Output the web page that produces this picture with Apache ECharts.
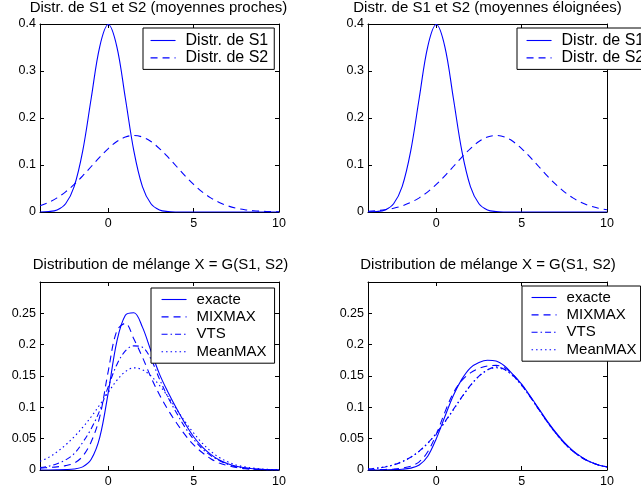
<!DOCTYPE html>
<html>
<head>
<meta charset="utf-8">
<script src="https://cdn.jsdelivr.net/npm/echarts@6/dist/echarts.min.js"></script>
<style>
html,body{margin:0;padding:0;background:#fff;}
#chart{width:641px;height:492px;}
</style>
</head>
<body>
<div id="chart"></div>
<script>
// ---- data ----
const xs = [-4,-3.5,-3,-2.5,-2,-1.5,-1,-0.5,0,0.5,1,1.5,2,2.5,3,3.5,4,4.5,5,5.5,6,6.5,7,7.5,8,8.5,9,9.5,10];

const titles = [
  "Distr. de S1 et S2 (moyennes proches)",
  "Distr. de S1 et S2 (moyennes éloignées)",
  "Distribution de mélange X = G(S1, S2)",
  "Distribution de mélange X = G(S1, S2)"
];
const namesTop = ["Distr. de S1", "Distr. de S2"];
const namesBottom = ["exacte", "MIXMAX", "VTS", "MeanMAX"];

const xTicks = [0, 5, 10];
const yTicksTop = [0, 0.1, 0.2, 0.3, 0.4];
const yTicksBottom = [0, 0.05, 0.1, 0.15, 0.2, 0.25];

// top-left (moyennes proches)
const procheS1 = [0.0001,0.0009,0.0044,0.0175,0.054,0.1295,0.242,0.3521,0.3989,0.3521,0.242,0.1295,0.054,0.0175,0.0044,0.0009,0.0001,0,0,0,0,0,0,0,0,0,0,0,0];
const procheS2 = [0.0131,0.0203,0.0301,0.0429,0.0587,0.0769,0.0968,0.1167,0.1350,0.1499,0.1595,0.1629,0.1595,0.1499,0.1350,0.1167,0.0968,0.0769,0.0587,0.0429,0.0301,0.0203,0.0131,0.0081,0.0048,0.0027,0.0015,0.0008,0.0004];
// top-right (moyennes éloignées)
const loinS1 = [0.0001,0.0009,0.0044,0.0175,0.054,0.1295,0.242,0.3521,0.3989,0.3521,0.242,0.1295,0.054,0.0175,0.0044,0.0009,0.0001,0,0,0,0,0,0,0,0,0,0,0,0];
const loinS2 = [0.0015,0.0027,0.0048,0.0081,0.0131,0.0203,0.0301,0.0429,0.0587,0.0769,0.0968,0.1167,0.1350,0.1499,0.1595,0.1629,0.1595,0.1499,0.1350,0.1167,0.0968,0.0769,0.0587,0.0429,0.0301,0.0203,0.0131,0.0081,0.0048];
// bottom-left (mixture, close means)
const procheExacte  = [0,0,0.0002,0.0006,0.0016,0.005,0.017,0.052,0.124,0.205,0.247,0.251,0.228,0.190,0.153,0.124,0.098,0.074,0.053,0.037,0.025,0.016,0.010,0.006,0.0035,0.002,0.001,0.0005,0.0002];
const procheMixmax  = [0.003,0.004,0.005,0.007,0.011,0.022,0.045,0.085,0.158,0.222,0.234,0.209,0.180,0.148,0.120,0.096,0.075,0.056,0.040,0.028,0.018,0.011,0.007,0.004,0.002,0.001,0.0006,0.0003,0.0001];
const procheVts     = [0.004,0.006,0.010,0.016,0.026,0.044,0.066,0.095,0.133,0.168,0.190,0.198,0.196,0.177,0.145,0.116,0.091,0.068,0.049,0.034,0.023,0.015,0.009,0.005,0.003,0.0015,0.0008,0.0004,0.0002];
const procheMeanmax = [0.014,0.020,0.029,0.040,0.053,0.068,0.085,0.104,0.124,0.143,0.157,0.163,0.160,0.150,0.135,0.117,0.097,0.077,0.059,0.043,0.030,0.020,0.013,0.008,0.005,0.003,0.0015,0.0008,0.0004];
// bottom-right (mixture, distant means)
const loinExacte  = [0,0,0.0003,0.0006,0.0012,0.003,0.008,0.022,0.050,0.085,0.119,0.145,0.163,0.1715,0.1752,0.174,0.166,0.152,0.137,0.118,0.098,0.078,0.060,0.044,0.031,0.021,0.013,0.008,0.005];
const loinMixmax  = [0.0002,0.0004,0.0008,0.0015,0.003,0.006,0.013,0.029,0.057,0.092,0.123,0.143,0.155,0.162,0.166,0.167,0.163,0.152,0.136,0.117,0.097,0.077,0.059,0.043,0.030,0.020,0.013,0.008,0.005];
const loinVts     = [0.0015,0.0027,0.0048,0.0081,0.0131,0.0203,0.0301,0.0429,0.0587,0.0769,0.0968,0.1167,0.1350,0.1499,0.1598,0.1645,0.1605,0.1505,0.1352,0.1168,0.0968,0.0769,0.0587,0.0429,0.0301,0.0203,0.0131,0.0081,0.0048];
const loinMeanmax = [0.0018,0.003,0.0052,0.0085,0.0135,0.0205,0.0300,0.0425,0.0580,0.0760,0.0960,0.1160,0.1345,0.1495,0.1595,0.1632,0.1598,0.1500,0.1350,0.1167,0.0968,0.0769,0.0587,0.0429,0.0301,0.0203,0.0131,0.0081,0.0048];

// ---- styling ----
const FONT = "'Liberation Sans', Arial, Helvetica, sans-serif";
const BLUE = "#0000ff";
const styles = {
  solid: "solid",
  dashed: [7, 5],
  dashdot: [6, 3, 1.5, 3],
  dotted: [1.5, 3]
};

const grids = [
  {left: 40, top: 24, width: 239, height: 188},
  {left: 368, top: 24, width: 239, height: 188},
  {left: 40, top: 282, width: 239, height: 188},
  {left: 368, top: 282, width: 239, height: 188}
];
const yMax = [0.4, 0.4, 0.3, 0.3];
const yTicks = [yTicksTop, yTicksTop, yTicksBottom, yTicksBottom];

const xAxis = [], yAxis = [];
grids.forEach((g, i) => {
  const line = {show: true, onZero: false, lineStyle: {color: "#000", width: 1}};
  xAxis.push({
    type: "value", gridIndex: i, min: -4, max: 10, position: "bottom",
    axisLine: line,
    axisTick: {show: true, inside: true, length: 4, customValues: xTicks, lineStyle: {color: "#000"}},
    axisLabel: {show: true, customValues: xTicks, margin: 5, color: "#000", fontFamily: FONT, fontSize: 12.5},
    splitLine: {show: false}
  });
  xAxis.push({
    type: "value", gridIndex: i, min: -4, max: 10, position: "top",
    axisLine: line,
    axisTick: {show: true, inside: true, length: 4, customValues: xTicks, lineStyle: {color: "#000"}},
    axisLabel: {show: false},
    splitLine: {show: false}
  });
  yAxis.push({
    type: "value", gridIndex: i, min: 0, max: yMax[i], position: "left",
    axisLine: line,
    axisTick: {show: true, inside: true, length: 4, customValues: yTicks[i], lineStyle: {color: "#000"}},
    axisLabel: {show: true, customValues: yTicks[i], margin: 4, color: "#000", fontFamily: FONT, fontSize: 12.5,
      formatter: v => String(v)},
    splitLine: {show: false}
  });
  yAxis.push({
    type: "value", gridIndex: i, min: 0, max: yMax[i], position: "right",
    axisLine: line,
    axisTick: {show: true, inside: true, length: 4, customValues: yTicks[i], lineStyle: {color: "#000"}},
    axisLabel: {show: false},
    splitLine: {show: false}
  });
});

function mk(name, gi, arr, type) {
  return {
    name: name, type: "line", xAxisIndex: gi * 2, yAxisIndex: gi * 2,
    data: xs.map((x, k) => [x, arr[k]]),
    symbol: "none", showSymbol: false, smooth: 0.35, animation: false,
    lineStyle: {color: BLUE, width: 1.1, type: type},
    itemStyle: {color: BLUE}
  };
}

const series = [
  mk(namesTop[0], 0, procheS1, styles.solid),
  mk(namesTop[1], 0, procheS2, styles.dashed),
  mk(namesTop[0], 1, loinS1, styles.solid),
  mk(namesTop[1], 1, loinS2, styles.dashed),
  mk(namesBottom[0], 2, procheExacte, styles.solid),
  mk(namesBottom[1], 2, procheMixmax, styles.dashed),
  mk(namesBottom[2], 2, procheVts, styles.dashdot),
  mk(namesBottom[3], 2, procheMeanmax, styles.dotted),
  mk(namesBottom[0], 3, loinExacte, styles.solid),
  mk(namesBottom[1], 3, loinMixmax, styles.dashed),
  mk(namesBottom[2], 3, loinVts, styles.dashdot),
  mk(namesBottom[3], 3, loinMeanmax, styles.dotted)
];

function legend(names, left, top, padding, fontSize) {
  return {
    data: names, orient: "vertical", left: left, top: top, padding: padding,
    itemWidth: 25, itemHeight: 14, itemGap: 0.4, selectedMode: false,
    backgroundColor: "#fff", borderColor: "#000", borderWidth: 1, borderRadius: 0,
    itemStyle: {opacity: 0},
    lineStyle: {width: 1.1},
    textStyle: {fontFamily: FONT, fontSize: fontSize, color: "#000", lineHeight: 17, padding: [0, 0, 0, 5]},
    z: 10
  };
}

const titleCenters = [[158.5, 0], [487.5, 0], [160.5, 257], [488, 257]];

const option = {
  backgroundColor: "#fff",
  animation: false,
  title: titles.map((t, i) => ({
    text: t, left: titleCenters[i][0], top: titleCenters[i][1], textAlign: "center", padding: 0,
    textStyle: {fontFamily: FONT, fontSize: 15, fontWeight: "normal", color: "#000", lineHeight: 16}
  })),
  grid: grids.map(g => Object.assign({containLabel: false, show: false}, g)),
  xAxis: xAxis,
  yAxis: yAxis,
  legend: [
    legend(namesTop, 143, 28, [4, 6, 3, 7], 16),
    legend(namesTop, 517, 28, [4, 6, 3, 9], 16),
    legend(namesBottom, 151, 288, [3, 8, 3, 10], 15),
    legend(namesBottom, 522, 286, [3, 4, 3, 9], 15)
  ],
  series: series
};

const chart = echarts.init(document.getElementById("chart"), null, {renderer: "canvas", width: 641, height: 492});
chart.setOption(option);
</script>
</body>
</html>
